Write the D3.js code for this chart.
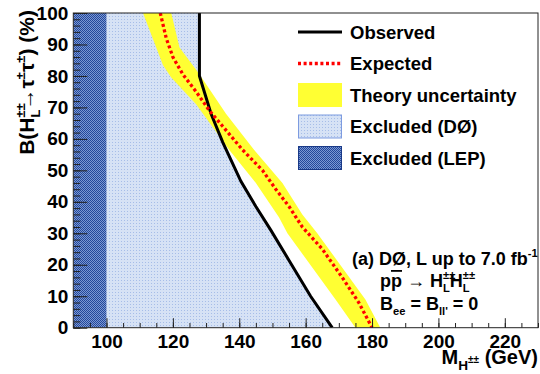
<!DOCTYPE html>
<html>
<meta charset="utf-8">
<head>
<script src="https://cdn.jsdelivr.net/npm/d3@7"></script>
<style>
body { margin:0; background:#fff; }
text { font-family: "Liberation Sans", Arial, Helvetica, sans-serif; font-weight: bold; fill: #000; }
</style>
</head>
<body>
<svg id="chart" width="540" height="374"></svg>
<script>
// [mass (GeV), B (%)]
var observed   = [[128,100],[128,80],[131.5,68],[135,59],[140.5,46.5],[145,38.5],[149.5,31],[155.5,20.5],[161.5,10],[168,0]];
var expected   = [[116.2,100],[118,92],[120,86],[123,80.5],[127,75],[131,69],[135,64],[141,56.5],[147,50],[151,44],[155,38.5],[159,32],[165,25],[171,16],[176,8],[180,0]];
var theoryLow  = [[111,100],[117,83.5],[119.5,79.5],[127,71],[137,56.5],[145,46],[152,35],[154.5,30],[169,9],[175,0]];
var theoryHigh = [[119.5,100],[122,89],[128,80.5],[136,68],[144.5,56.5],[153,46],[159,36],[163.5,30],[178,9],[182.5,0]];
var lepLimit = 100;
var xTicks = [100,120,140,160,180,200,220];
var yTicks = [0,10,20,30,40,50,60,70,80,90,100];
var legendLabels = ["Observed","Expected","Theory uncertainty","Excluded (D\u00d8)","Excluded (LEP)"];

var svg = d3.select("#chart");
var L = 73.3, R = 538, T = 13, B = 327.7;
var x = d3.scaleLinear().domain([90,230]).range([L,R]);
var y = d3.scaleLinear().domain([0,100]).range([B,T]);

var defs = svg.append("defs");
var pd = defs.append("pattern").attr("id","d0pat").attr("patternUnits","userSpaceOnUse")
    .attr("width",3).attr("height",3);
pd.append("rect").attr("width",3).attr("height",3).attr("fill","#d6e2f5");
pd.append("rect").attr("x",1).attr("y",1).attr("width",1).attr("height",1).attr("fill","#a6bde8");
var pl = defs.append("pattern").attr("id","leppat").attr("patternUnits","userSpaceOnUse")
    .attr("width",2).attr("height",2);
pl.append("rect").attr("width",2).attr("height",2).attr("fill","#7b98d3");
pl.append("rect").attr("width",1).attr("height",1).attr("fill","#23479a");
pl.append("rect").attr("x",1).attr("y",1).attr("width",1).attr("height",1).attr("fill","#23479a");
defs.append("clipPath").attr("id","clip").append("rect")
    .attr("x",L).attr("y",T).attr("width",R-L).attr("height",B-T);

var line = d3.line().x(function(d){ return x(d[0]); }).y(function(d){ return y(d[1]); });
var plot = svg.append("g").attr("clip-path","url(#clip)");

// excluded by D0: from LEP limit to observed curve
plot.append("path")
    .attr("d", line([[lepLimit,100]].concat(observed, [[lepLimit,0]])) + "Z")
    .attr("fill","url(#d0pat)");
// excluded by LEP
plot.append("rect")
    .attr("x",x(90)).attr("y",y(100))
    .attr("width",x(lepLimit)-x(90)).attr("height",y(0)-y(100))
    .attr("fill","url(#leppat)");
// theory band
plot.append("path")
    .attr("d", line(theoryLow.concat(theoryHigh.slice().reverse())) + "Z")
    .attr("fill","#ffff33");
plot.append("path").attr("d", line(observed))
    .attr("fill","none").attr("stroke","#000").attr("stroke-width",3);
plot.append("path").attr("d", line(expected))
    .attr("fill","none").attr("stroke","#ff0000").attr("stroke-width",3.3)
    .attr("stroke-dasharray","3,2.6");

// axes (ticks inside, ROOT style)
function styleAxis(g){
    g.select(".domain").remove();
    g.selectAll("line").attr("stroke","#222");
    g.selectAll("text").attr("font-size",19).attr("fill","#000");
    g.attr("font-family",null).attr("font-size",null);
}
svg.append("g").attr("transform","translate("+L+",0)")
    .call(d3.axisLeft(y).tickValues(d3.range(0,101,2)).tickSize(-7).tickFormat(""))
    .call(styleAxis);
svg.append("g").attr("transform","translate("+L+",0)")
    .call(d3.axisLeft(y).tickValues(yTicks).tickSize(-14).tickPadding(5))
    .call(styleAxis);
svg.append("g").attr("transform","translate(0,"+B+")")
    .call(d3.axisBottom(x).tickValues(d3.range(90,231,5)).tickSize(-4.7).tickFormat(""))
    .call(styleAxis);
svg.append("g").attr("transform","translate(0,"+B+")")
    .call(d3.axisBottom(x).tickValues(xTicks).tickSize(-9.5).tickPadding(7))
    .call(styleAxis);

svg.append("rect").attr("x",L).attr("y",T).attr("width",R-L).attr("height",B-T)
    .attr("fill","none").attr("stroke","#222").attr("stroke-width",1);

// text with super/subscripts; shift in em of the base size (negative = up)
function rich(g, px, py, size, anchor, parts){
    var t = g.append("text").attr("x",px).attr("y",py).attr("font-size",size)
        .attr("text-anchor",anchor);
    var shift = 0, prev = null;
    parts.forEach(function(p){
        var s = p.sup ? -0.42 : (p.sub ? 0.28 : (p.shift || 0));
        s *= size;
        var ts = t.append("tspan").text(p.t).attr("dy", s - shift);
        if (p.sup || p.sub || p.small) ts.attr("font-size", size*(p.small || 0.62));
        if (p.stack && prev) ts.attr("dx", -prev.node().getComputedTextLength());
        if (p.over) ts.style("text-decoration","overline");
        shift = s; prev = ts;
    });
    return t;
}

// y title
var yt = svg.append("g").attr("transform","translate(34,10) rotate(-90)");
rich(yt, 0, 0, 21, "end", [
    {t:"B(H"},{t:"\u00b1\u00b1",sup:true},{t:"L",sub:true,stack:true},
    {t:"\u2192\u03c4"},{t:"\u00b1",sup:true},{t:"\u03c4"},{t:"\u00b1",sup:true},{t:") (%)"}
]);
// x title
rich(svg, R, 364, 20, "end", [
    {t:"M"},{t:"H",shift:0.3,small:0.68},{t:"\u00b1\u00b1",shift:-0.05,small:0.5},{t:" (GeV)"}
]);

// legend
var leg = svg.append("g");
var rowY = [32,63.5,95,126.5,158];
leg.append("line").attr("x1",298).attr("x2",342).attr("y1",rowY[0]).attr("y2",rowY[0])
    .attr("stroke","#000").attr("stroke-width",3);
leg.append("line").attr("x1",298).attr("x2",342).attr("y1",rowY[1]).attr("y2",rowY[1])
    .attr("stroke","#ff0000").attr("stroke-width",3.3).attr("stroke-dasharray","3,2.6");
leg.append("rect").attr("x",298).attr("y",rowY[2]-12).attr("width",44).attr("height",24)
    .attr("fill","#ffff33");
leg.append("rect").attr("x",298.5).attr("y",rowY[3]-11.5).attr("width",43).attr("height",23)
    .attr("fill","url(#d0pat)").attr("stroke","#7d9be0");
leg.append("rect").attr("x",298.5).attr("y",rowY[4]-11.5).attr("width",43).attr("height",23)
    .attr("fill","url(#leppat)").attr("stroke","#1a3a88");
leg.selectAll("text.lab").data(legendLabels).enter().append("text")
    .attr("class","lab").attr("x",350).attr("y",function(d,i){ return rowY[i]; })
    .attr("dy","0.36em").attr("font-size",18.5).text(function(d){ return d; });

// annotation
rich(svg, 352, 265, 18, "start", [
    {t:"(a) D\u00d8, L up to 7.0 fb"},{t:"-1",sup:true}
]);
rich(svg, 380, 287, 18, "start", [
    {t:"p"},{t:"p",over:true},{t:" \u2192 H"},{t:"\u00b1\u00b1",sup:true},{t:"L",sub:true,stack:true},
    {t:"H"},{t:"\u00b1\u00b1",sup:true},{t:"L",sub:true,stack:true}
]);
rich(svg, 380, 310, 18, "start", [
    {t:"B"},{t:"ee",sub:true},{t:" = B"},{t:"ll'",sub:true},{t:" = 0"}
]);
</script>
</body>
</html>
